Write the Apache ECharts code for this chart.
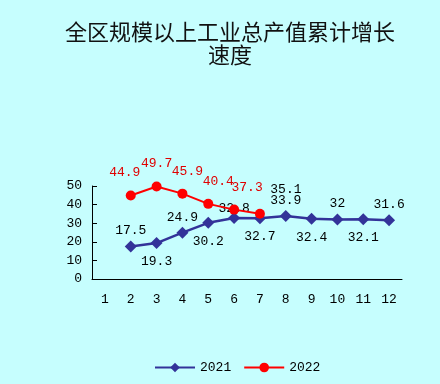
<!DOCTYPE html>
<html>
<head>
<meta charset="utf-8">
<script src="https://cdn.jsdelivr.net/npm/echarts@6/dist/echarts.min.js"></script>
<style>html,body{margin:0;padding:0;background:#C6FEFE;}#c{width:440px;height:384px;}</style>
</head>
<body>
<div id="c"></div>
<script>
const months = ['1','2','3','4','5','6','7','8','9','10','11','12'];
const yTicks = [0, 10, 20, 30, 40, 50];
const seriesNames = ['2021', '2022'];
const values2021 = [null, 17.5, 19.3, 24.9, 30.2, 32.8, 32.7, 33.9, 32.4, 32, 32.1, 31.6];
const values2022 = [null, 44.9, 49.7, 45.9, 40.4, 37.3, 35.1, null, null, null, null, null];

// label placement (style only)
const side2021 = ['top','top','bottom','top','bottom','top','bottom','top','bottom','top','bottom','top'];
const shift2022 = [0, -6, 0, 5, 10, 13, 26, 0, 0, 0, 0, 0];

const numFont = '"Liberation Mono", "DejaVu Sans Mono", monospace';

const data2021 = values2021.map((v, i) => ({
  value: v,
  label: {
    position: side2021[i],
    distance: side2021[i] === 'top' ? 3 : 6,
    offset: i === 5 ? [0, 6] : [0, 0]
  }
}));
const data2022 = values2022.map((v, i) => ({
  value: v,
  label: i === 6
    ? { color: '#000', offset: [shift2022[i], -4] }
    : { offset: [shift2022[i], -2] }
}));

const chart = echarts.init(document.getElementById('c'), null, {renderer: 'canvas'});
chart.setOption({
  backgroundColor: '#C6FEFE',
  animation: false,
  title: {
    text: '全区规模以上工业总产值累计增长\n速度',
    left: 225,
    top: 15,
    textAlign: 'center',
    textStyle: {
      fontFamily: '"Noto Sans CJK SC", sans-serif',
      fontSize: 22,
      fontWeight: 'normal',
      color: '#111',
      lineHeight: 23
    }
  },
  legend: {
    data: seriesNames,
    left: 149,
    top: 356,
    itemWidth: 40,
    itemHeight: 12,
    itemGap: 12,
    textStyle: {fontFamily: numFont, fontSize: 13, color: '#000'}
  },
  grid: {left: 92, right: 38, top: 186, bottom: 105, containLabel: false},
  xAxis: {
    type: 'category',
    data: months,
    boundaryGap: true,
    axisLine: {lineStyle: {color: '#000', width: 1}},
    axisTick: {inside: true, length: 5, lineStyle: {color: '#000'}},
    axisLabel: {fontFamily: numFont, fontSize: 13, color: '#000', margin: 14}
  },
  yAxis: {
    type: 'value',
    min: yTicks[0],
    max: yTicks[yTicks.length - 1],
    interval: yTicks[1] - yTicks[0],
    splitLine: {show: false},
    axisLine: {show: true, lineStyle: {color: '#000', width: 1}},
    axisTick: {show: true, inside: true, length: 5, lineStyle: {color: '#000'}},
    axisLabel: {fontFamily: numFont, fontSize: 13, color: '#000', margin: 10}
  },
  series: [
    {
      name: seriesNames[0],
      type: 'line',
      data: data2021,
      symbol: 'diamond',
      symbolSize: 12,
      itemStyle: {color: '#333399'},
      lineStyle: {color: '#333399', width: 2.5},
      label: {show: true, fontFamily: numFont, fontSize: 13, color: '#000'},
      z: 2
    },
    {
      name: seriesNames[1],
      type: 'line',
      data: data2022,
      symbol: 'circle',
      symbolSize: 10,
      itemStyle: {color: '#FF0000'},
      lineStyle: {color: '#FF0000', width: 2},
      label: {show: true, position: 'top', distance: 9, fontFamily: numFont, fontSize: 13, color: '#E00000'},
      z: 3
    }
  ]
});
</script>
</body>
</html>
